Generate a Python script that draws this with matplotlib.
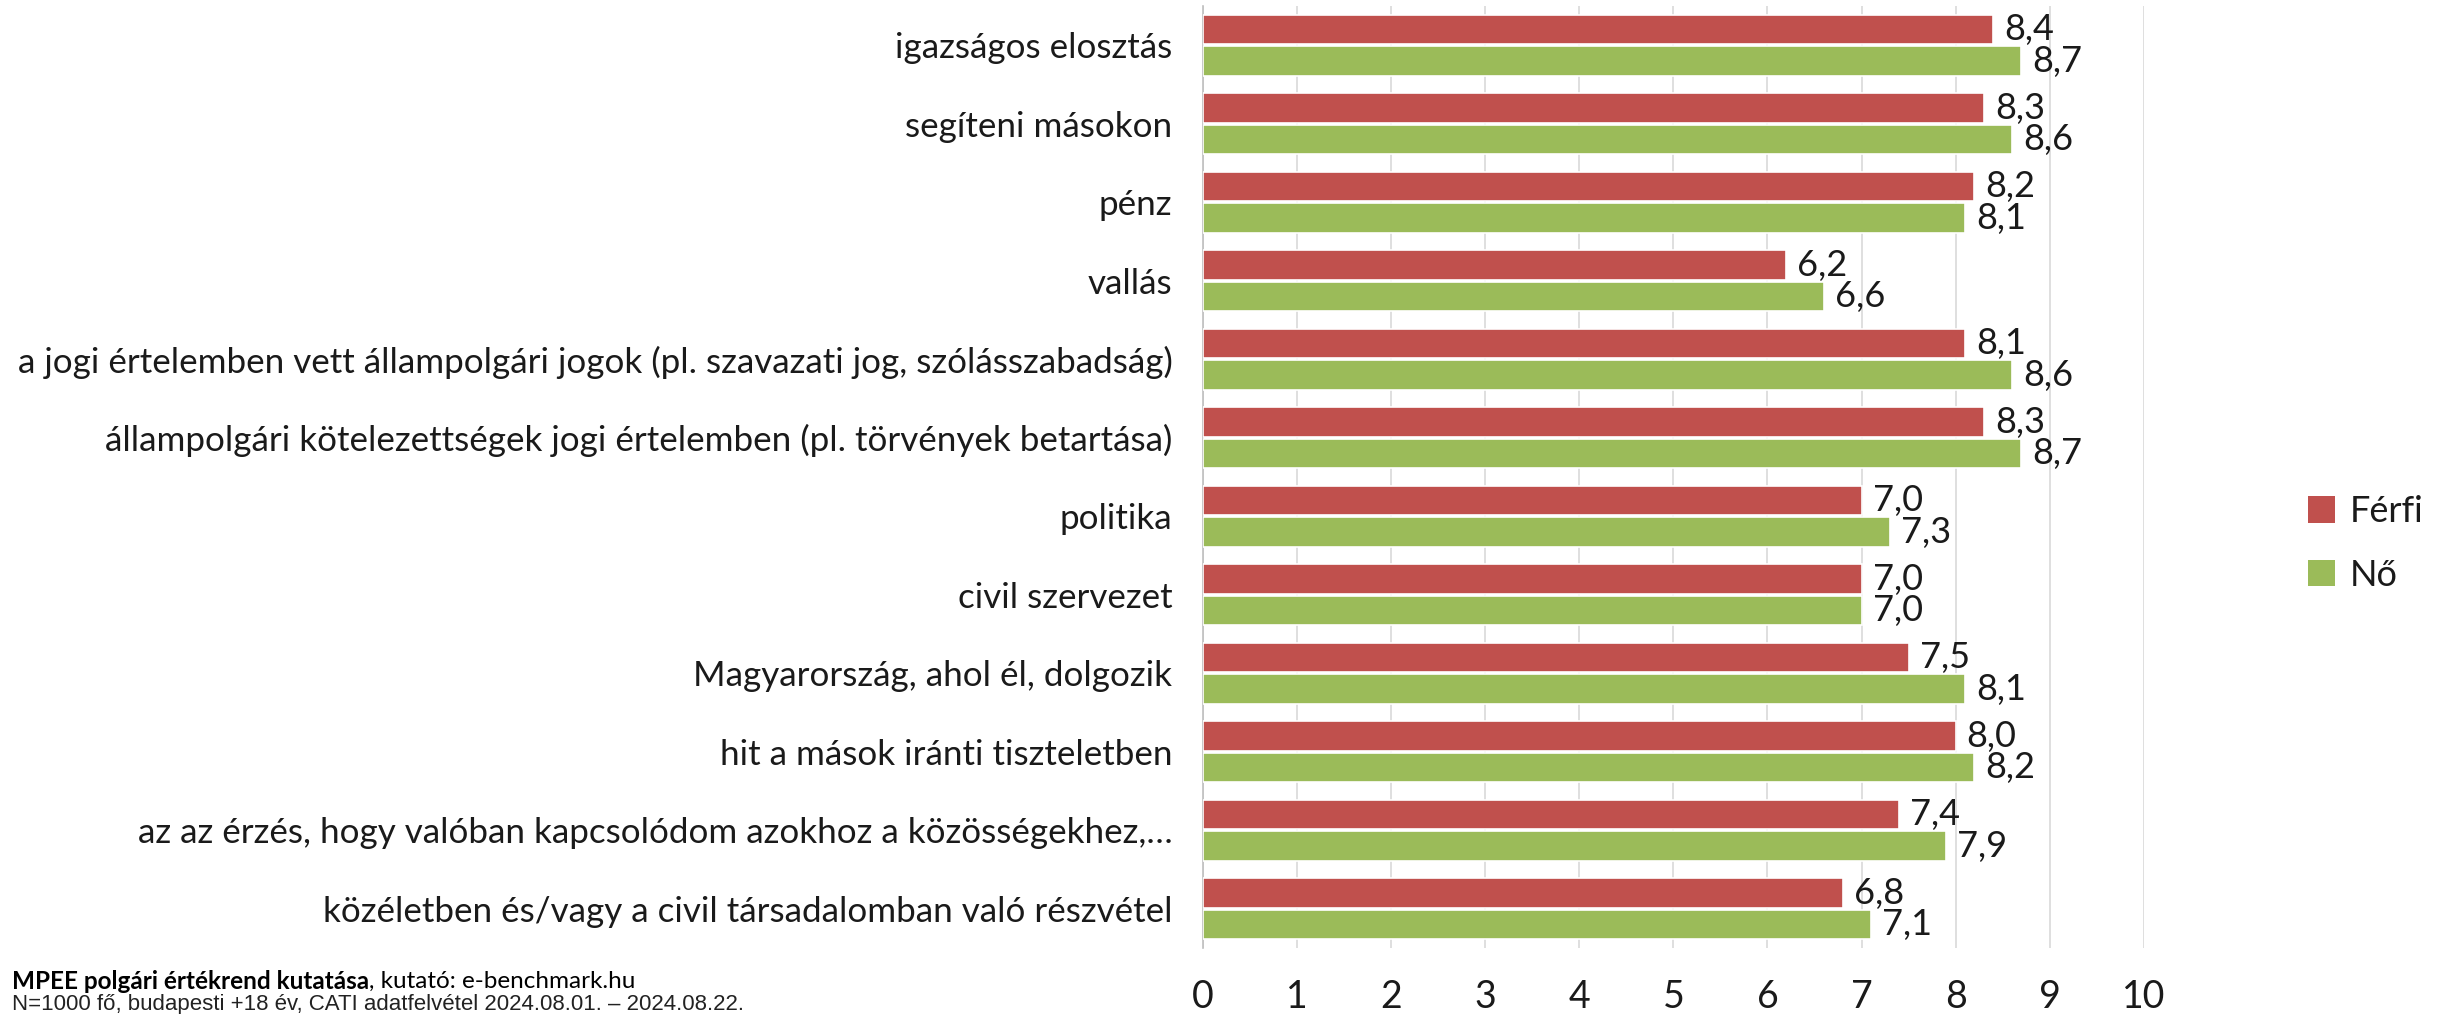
import matplotlib.pyplot as plt
import numpy as np
from matplotlib.patches import Patch

plt.rcParams['font.family'] = ['Lato', 'DejaVu Sans']

categories = [
    'igazságos elosztás',
    'segíteni másokon',
    'pénz',
    'vallás',
    'a jogi értelemben vett állampolgári jogok (pl. szavazati jog, szólásszabadság)',
    'állampolgári kötelezettségek jogi értelemben (pl. törvények betartása)',
    'politika',
    'civil szervezet',
    'Magyarország, ahol él, dolgozik',
    'hit a mások iránti tiszteletben',
    'az az érzés, hogy valóban kapcsolódom azokhoz a közösségekhez,…',
    'közéletben és/vagy a civil társadalomban való részvétel',
]
ferfi = [8.4, 8.3, 8.2, 6.2, 8.1, 8.3, 7.0, 7.0, 7.5, 8.0, 7.4, 6.8]
no = [8.7, 8.6, 8.1, 6.6, 8.6, 8.7, 7.3, 7.0, 8.1, 8.2, 7.9, 7.1]
series_names = ['Férfi', 'Nő']
colors = ['#C0504D', '#9BBB59']

fig = plt.figure(figsize=(24.5, 10.14), dpi=100)
ax = fig.add_axes([0.491, 0.065, 0.384, 0.929])

y = np.arange(len(categories))
h = 0.375
off = 0.2
for vals, dy, col in [(ferfi, -off, colors[0]), (no, off, colors[1])]:
    bars = ax.barh(y + dy, vals, height=h, color=col, edgecolor='white',
                   linewidth=1.2, zorder=3)
    for b, v in zip(bars, vals):
        ax.annotate(f'{v:.1f}'.replace('.', ','),
                    (b.get_width(), b.get_y() + b.get_height() / 2),
                    xytext=(8, 0), textcoords='offset points',
                    ha='left', va='center', fontsize=26, color='#1a1a1a')

ax.set_xlim(0, 10)
ax.set_ylim(len(categories) - 0.5, -0.5)
ax.set_xticks(range(11))
ax.set_yticks(y)
ax.set_yticklabels(categories)
ax.tick_params(axis='y', length=0, pad=22, labelsize=25.2, labelcolor='#1a1a1a')
ax.tick_params(axis='x', length=0, pad=22, labelsize=27, labelcolor='#1a1a1a')
ax.grid(axis='x', color='#D9D9D9', linewidth=1.2, zorder=0)
for s in ['top', 'right', 'bottom']:
    ax.spines[s].set_visible(False)
ax.spines['left'].set_color('#BFBFBF')
ax.spines['left'].set_linewidth(1.2)

handles = [Patch(facecolor=c, edgecolor='none') for c in colors]
fig.legend(handles, series_names, loc='center left',
           bbox_to_anchor=(0.942, 0.464), frameon=False, fontsize=26,
           handlelength=0.75, handleheight=0.75, handletextpad=0.4,
           labelspacing=0.85, labelcolor='#1a1a1a', borderpad=0,
           borderaxespad=0)

# two-part source note: bold survey name, then researcher
t = fig.text(0.005, 0.032, 'MPEE polgári értékrend kutatása', fontsize=17.5,
             fontweight='bold', ha='left', va='center')
fig.canvas.draw()
bb = t.get_window_extent()
fig.text(bb.x1 / fig.bbox.width, 0.032, ', kutató: e-benchmark.hu',
         fontsize=17.5, ha='left', va='center')
fig.text(0.005, 0.009, 'N=1000 fő, budapesti +18 év, CATI adatfelvétel 2024.08.01. – 2024.08.22.',
         fontsize=16, family=['Liberation Sans', 'DejaVu Sans'],
         ha='left', va='center', color='#222222')

fig.savefig('out.png', dpi=100)
